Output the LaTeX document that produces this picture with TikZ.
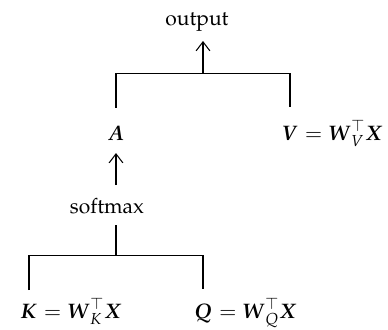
\documentclass[tikz,border=0pt]{standalone}
\usepackage[T1]{fontenc}
\usepackage{amsmath, amssymb}
\usepackage{mathpazo}
\usepackage{tikz}
\usetikzlibrary{positioning, arrows.meta, calc}

\begin{document}
\begin{tikzpicture}[>={Straight Barb[length=1.5mm,width=2.3mm]}, line width=0.5pt,
    every node/.style={inner sep=0pt, anchor=base}]
        \useasboundingbox (0, 0) rectangle (6.493, 5.506);

        % Nodes
        \node (out) at (3.297, 5.071) {output};
        \node (A)   at (1.941, 3.163) {$\boldsymbol{A}$};
        \node (V)   at (4.853, 3.163) {$\boldsymbol{V}$};
        \node[anchor=base west] (Veq) at (V.base east) {${}=\boldsymbol{W}_{V}^{\top}\boldsymbol{X}$};
        \node (sm)  at (1.791, 1.941) {softmax};
        \node (K)   at (0.485, 0.184) {$\boldsymbol{K}$};
        \node[anchor=base west] (Keq) at (K.base east) {${}=\boldsymbol{W}_{K}^{\top}\boldsymbol{X}$};
        \node (Q)   at (3.397, 0.184) {$\boldsymbol{Q}$};
        \node[anchor=base west] (Qeq) at (Q.base east) {${}=\boldsymbol{W}_{Q}^{\top}\boldsymbol{X}$};

        % Junctions
        \coordinate (j1) at (3.397, 4.284);
        \coordinate (j2) at (1.941, 1.238);

        % Edges
        \draw[shorten <=0.536cm, shorten >=0.552cm] (A.base) |- (j1) -| (V.base);
        \draw[->, shorten >=0.251cm] (j1) -- (j1 |- out.base);
        \draw[->, shorten <=0.469cm, shorten >=0.218cm] (sm.base -| A.base) -- (A.base);
        \draw[shorten <=0.201cm] (sm.base -| j2) -- (j2);
        \draw[shorten <=0.469cm, shorten >=0.485cm] (K.base) |- (j2) -| (Q.base);
      \end{tikzpicture}
\end{document}
